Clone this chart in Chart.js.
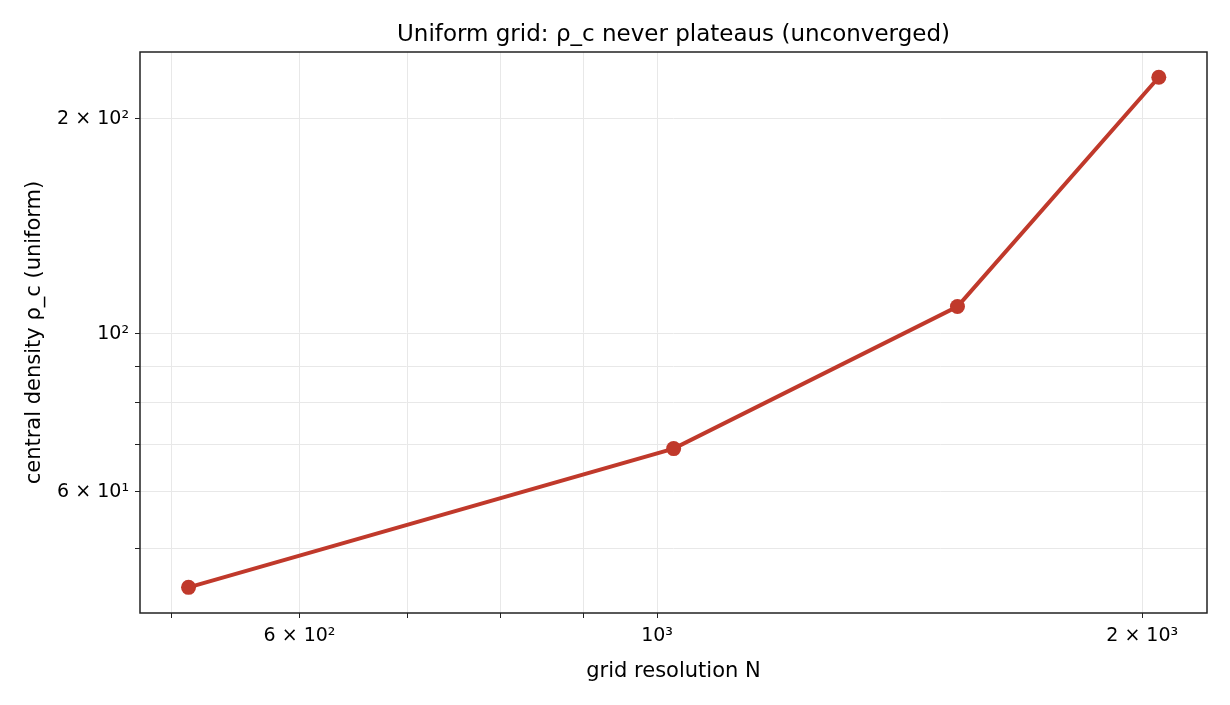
<!DOCTYPE html>
<html>
<head>
<meta charset="utf-8">
<script src="https://cdn.jsdelivr.net/npm/chart.js@4.4.1/dist/chart.umd.min.js"></script>
<style>
  html, body { margin: 0; padding: 0; background: #fff; }
  #wrap { width: 1230px; height: 705px; }
</style>
</head>
<body>
<div id="wrap"><canvas id="c"></canvas></div>
<script>
// valeurs
const resolutions = [512, 1024, 1536, 2048];
const densites = [44.1, 69.0, 109.1, 228.6];

const xTicks = [500, 600, 700, 800, 900, 1000, 2000];
const xLabels = { 600: '6 × 10²', 1000: '10³', 2000: '2 × 10³' };
const yTicks = [50, 60, 70, 80, 90, 100, 200];
const yLabels = { 60: '6 × 10¹', 100: '10²', 200: '2 × 10²' };

const police = '"DejaVu Sans", sans-serif';
const rouge = '#c0392b';

// cadre noir autour de la zone de tracé
const cadre = {
  id: 'cadre',
  afterDraw(chart) {
    const a = chart.chartArea;
    const ctx = chart.ctx;
    ctx.save();
    ctx.strokeStyle = '#222';
    ctx.lineWidth = 1.5;
    ctx.strokeRect(a.left, a.top, a.right - a.left, a.bottom - a.top);
    ctx.restore();
  }
};

const ctx = document.getElementById('c').getContext('2d');
new Chart(ctx, {
  type: 'line',
  data: {
    datasets: [{
      data: resolutions.map((n, i) => ({ x: n, y: densites[i] })),
      borderColor: rouge,
      backgroundColor: rouge,
      borderWidth: 4,
      pointRadius: 7.5,
      pointHoverRadius: 7.5,
      pointBorderWidth: 0,
      tension: 0,
      clip: false
    }]
  },
  plugins: [cadre],
  options: {
    responsive: true,
    maintainAspectRatio: false,
    animation: false,
    layout: { padding: { left: 0, right: 23, top: 0, bottom: 0 } },
    plugins: {
      legend: { display: false },
      tooltip: { enabled: false },
      title: {
        display: true,
        fullSize: false,
        text: 'Uniform grid: ρ_c never plateaus (unconverged)',
        color: '#000',
        font: { family: police, size: 23, weight: 'normal', lineHeight: 1.2 },
        padding: { top: 21, bottom: 3.4 }
      }
    },
    scales: {
      x: {
        type: 'logarithmic',
        min: 477.7,
        max: 2194,
        afterBuildTicks: scale => { scale.ticks = xTicks.map(v => ({ value: v })); },
        afterFit: scale => { scale.height = 92; },
        ticks: {
          autoSkip: false,
          maxRotation: 0,
          color: '#000',
          padding: 7,
          font: { family: police, size: 19 },
          callback: v => xLabels[v] || ''
        },
        grid: { color: '#e8e8e8', lineWidth: 1, tickColor: '#222', tickLength: 5 },
        border: { display: false },
        title: {
          display: true,
          text: 'grid resolution N',
          color: '#000',
          font: { family: police, size: 21 },
          padding: { top: 0, bottom: 21 }
        }
      },
      y: {
        type: 'logarithmic',
        min: 40.6,
        max: 248,
        afterBuildTicks: scale => { scale.ticks = yTicks.map(v => ({ value: v })); },
        afterFit: scale => { scale.width = 140; },
        ticks: {
          autoSkip: false,
          color: '#000',
          padding: 6,
          font: { family: police, size: 19 },
          callback: v => yLabels[v] || ''
        },
        grid: { color: '#e8e8e8', lineWidth: 1, tickColor: '#222', tickLength: 5 },
        border: { display: false },
        title: {
          display: true,
          text: 'central density ρ_c (uniform)',
          color: '#000',
          font: { family: police, size: 21 },
          padding: { top: 22, bottom: 0 }
        }
      }
    }
  }
});
</script>
</body>
</html>
